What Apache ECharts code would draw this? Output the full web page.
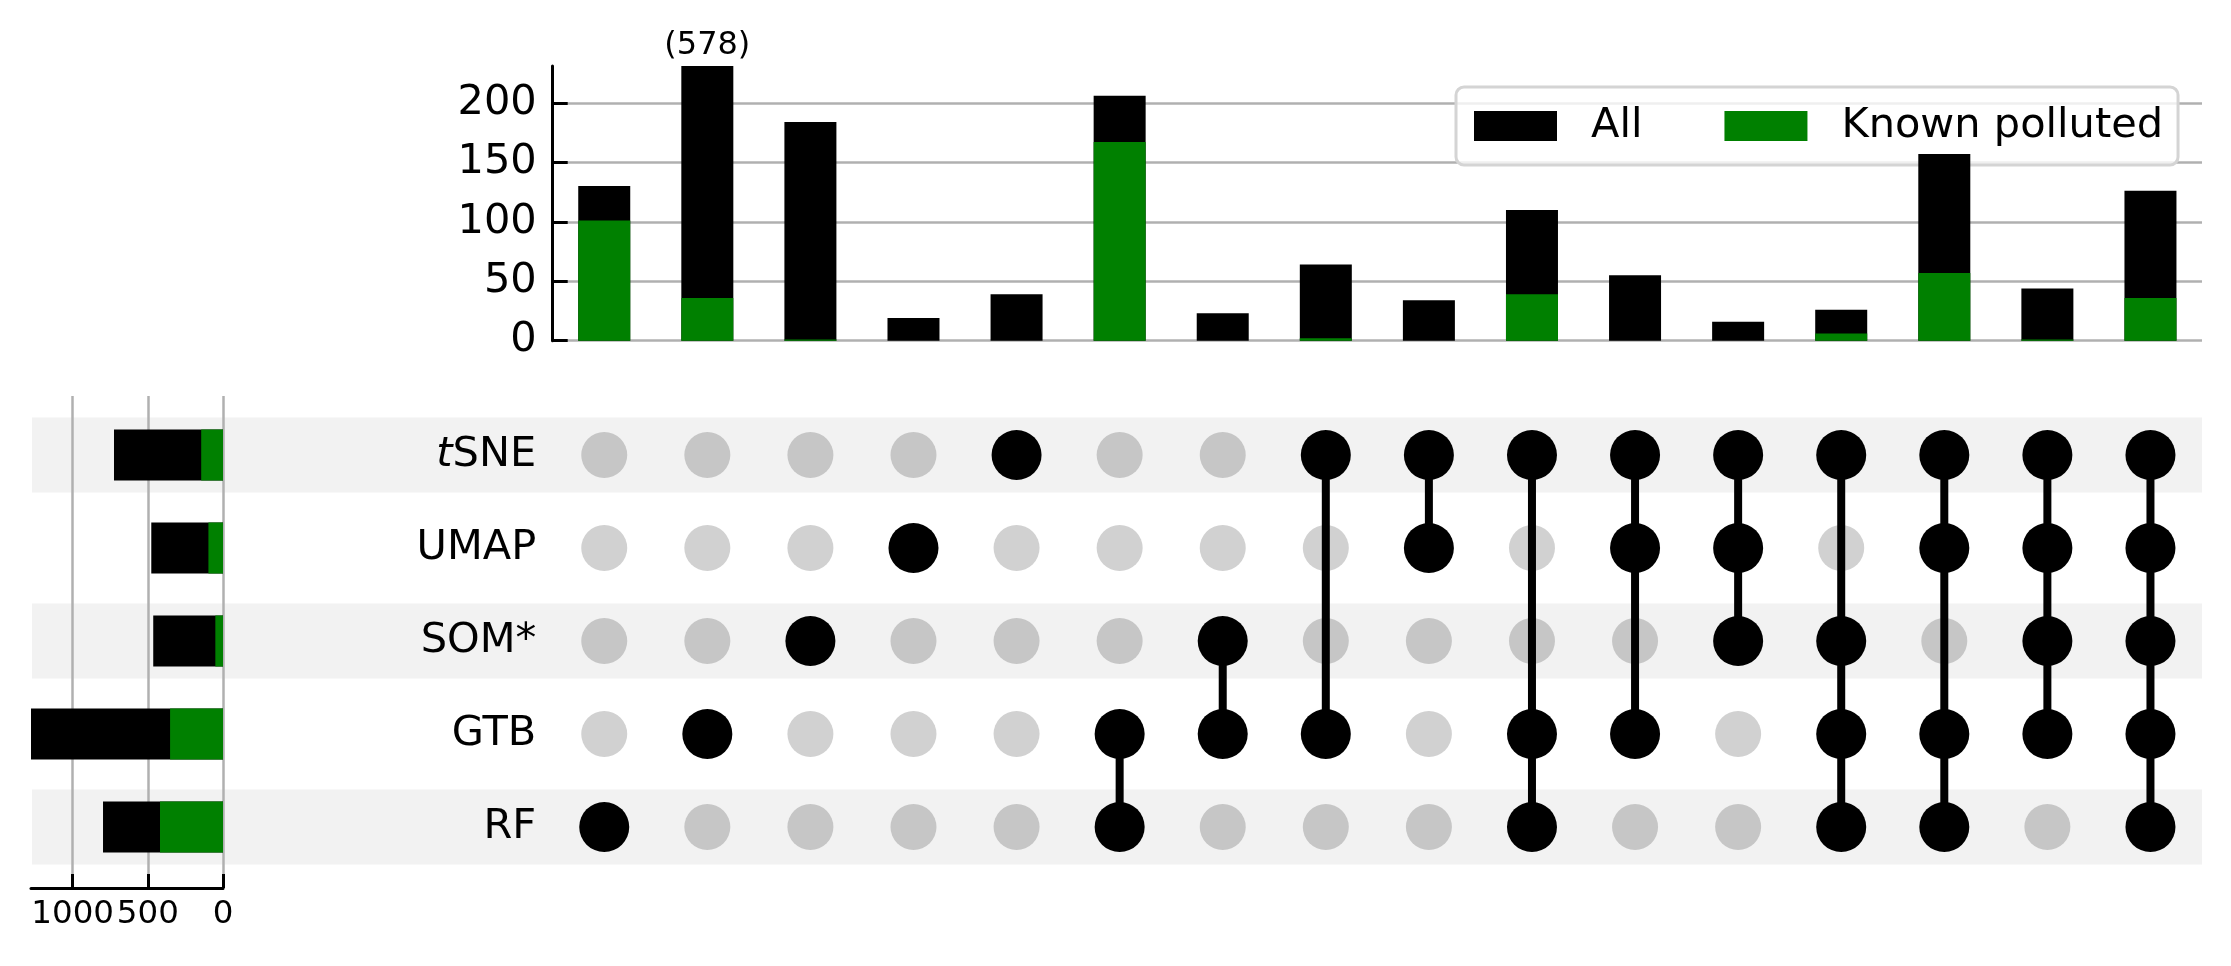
<!DOCTYPE html>
<html><head><meta charset="utf-8">
<script src="https://cdn.jsdelivr.net/npm/echarts@6/dist/echarts.min.js"></script>
<style>html,body{margin:0;padding:0;background:#fff}#c{width:2231px;height:966px}</style>
</head><body><div id="c"></div>
<script>
// ---------- data ----------
const sets = ['tSNE', 'UMAP', 'SOM*', 'GTB', 'RF'];
const shadedSets = ['tSNE', 'SOM*', 'RF'];
const intersections = [
  ['RF'], ['GTB'], ['SOM*'], ['UMAP'], ['tSNE'],
  ['GTB', 'RF'], ['SOM*', 'GTB'], ['tSNE', 'GTB'], ['tSNE', 'UMAP'],
  ['tSNE', 'GTB', 'RF'], ['tSNE', 'UMAP', 'GTB'], ['tSNE', 'UMAP', 'SOM*'],
  ['tSNE', 'SOM*', 'GTB', 'RF'], ['tSNE', 'UMAP', 'GTB', 'RF'], ['tSNE', 'UMAP', 'SOM*', 'GTB'],
  ['tSNE', 'UMAP', 'SOM*', 'GTB', 'RF']
];
const allCounts = [130, 578, 184, 19, 39, 206, 23, 64, 34, 110, 55, 16, 26, 157, 44, 126];
const pollutedCounts = [101, 36, 1, 0, 0, 167, 0, 2, 0, 39, 0, 0, 6, 57, 1, 36];
const setTotals = [725, 477, 464, 1390, 798];
const setPolluted = [145, 97, 51, 352, 419];
const countTicks = [0, 50, 100, 150, 200];
const countMax = 231;
const totalTicks = [0, 500, 1000];
const totalMax = 1277;

// ---------- derived ----------
const colNames = intersections.map(s => s.join('&'));
const FONT = 'DejaVu Sans';
const FS = 41.5;
const GRID = '#b0b0b0';
const NONE = 'rgba(0,0,0,0)';

const blackDots = [], greyDots = [], links = [];
intersections.forEach((mem, c) => {
  const rows = [];
  sets.forEach((s, r) => {
    if (mem.includes(s)) { blackDots.push([c, r]); rows.push(r); }
    else greyDots.push({ value: [c, r], itemStyle: { color: shadedSets.includes(s) ? '#c6c6c6' : '#d1d1d1', opacity: 1 } });
  });
  if (rows.length > 1) links.push([c, Math.min(...rows), Math.max(...rows)]);
});
const overflow = [];
allCounts.forEach((v, i) => { if (v > countMax) overflow.push({ value: [i, countMax], raw: v }); });

const gL = 552.7, gW = 1649.3;
const chart = echarts.init(document.getElementById('c'), null, { renderer: 'canvas' });
chart.setOption({
  animation: false,
  backgroundColor: '#fff',
  textStyle: { fontFamily: FONT, color: '#000' },
  legend: {
    data: ['All', 'Known polluted'], left: 1456, top: 87, z: 1,
    icon: 'rect', itemWidth: 83, itemHeight: 30, itemGap: 82,
    padding: [18, 15, 18, 18],
    borderColor: '#d4d4d4', borderWidth: 3, borderRadius: 8,
    backgroundColor: 'rgba(255,255,255,0.8)',
    textStyle: { fontSize: FS, fontFamily: FONT, color: '#000', padding: [0, 0, 0, 29], lineHeight: 40 }
  },
  grid: [
    { left: gL, top: 66, width: gW, height: 274.7 },          // 0 intersection bars
    { left: gL, top: 408.5, width: gW, height: 465 },         // 1 matrix
    { left: 32, top: 408.5, width: 2170, height: 465 },       // 2 row shading
    { left: 31, top: 408.5, width: 192, height: 465 },        // 3 totals bars
    { left: 31, top: 396, width: 192, height: 492 }           // 4 totals axis
  ],
  xAxis: [
    { gridIndex: 0, type: 'category', data: colNames, show: false },
    { gridIndex: 1, type: 'category', data: colNames, show: false },
    { gridIndex: 2, type: 'value', min: 0, max: 1, show: false },
    { gridIndex: 3, type: 'value', min: 0, max: totalMax, inverse: true, show: false },
    { gridIndex: 4, type: 'value', min: 0, max: totalMax, interval: 500, inverse: true, position: 'bottom', z: 1,
      axisLine: { show: true, lineStyle: { color: '#000', width: 3 } },
      axisTick: { show: true, inside: true, length: 14, lineStyle: { color: '#000', width: 3 }, customValues: totalTicks },
      axisLabel: { show: true, fontSize: 32.5, color: '#000', margin: 10, fontFamily: FONT,
        formatter: v => (totalTicks.includes(v) ? String(v) : '') },
      splitLine: { show: true, lineStyle: { color: [GRID, GRID, GRID, NONE], width: 2.5 } }
    }
  ],
  yAxis: [
    { gridIndex: 0, type: 'value', min: 0, max: countMax, interval: 50,
      axisLine: { show: true, lineStyle: { color: '#000', width: 3 } },
      axisTick: { show: true, inside: true, length: 15, lineStyle: { color: '#000', width: 3 }, customValues: countTicks },
      axisLabel: { fontSize: FS, color: '#000', margin: 16, fontFamily: FONT,
        formatter: v => (countTicks.includes(v) ? String(v) : '') },
      splitLine: { show: true, lineStyle: { color: [GRID, GRID, GRID, GRID, GRID, NONE], width: 2.5 } }
    },
    { gridIndex: 1, type: 'category', data: sets, inverse: true,
      axisLine: { show: false }, axisTick: { show: false }, splitLine: { show: false },
      axisLabel: { fontSize: FS, color: '#000', margin: 16.5, fontFamily: FONT,
        formatter: v => (v.charAt(0) === 't' ? '{it|t}{n|' + v.slice(1) + '}' : '{n|' + v + '}'),
        rich: { it: { fontSize: FS, fontStyle: 'italic', fontFamily: FONT, color: '#000' },
                n: { fontSize: FS, fontFamily: FONT, color: '#000' } } }
    },
    { gridIndex: 2, type: 'category', data: sets, inverse: true, show: false },
    { gridIndex: 3, type: 'category', data: sets, inverse: true, show: false },
    { gridIndex: 4, type: 'value', min: 0, max: 1, show: false }
  ],
  series: [
    // row shading
    { type: 'bar', xAxisIndex: 2, yAxisIndex: 2, z: 0, silent: true, barWidth: 75,
      itemStyle: { color: '#f2f2f2' }, data: sets.map(s => (shadedSets.includes(s) ? 1 : 0)) },
    // intersection bars
    { name: 'All', type: 'bar', xAxisIndex: 0, yAxisIndex: 0, z: 2, barWidth: 52, barGap: '-100%',
      itemStyle: { color: '#000000' }, data: allCounts, clip: true },
    { name: 'Known polluted', type: 'bar', xAxisIndex: 0, yAxisIndex: 0, z: 2, barWidth: 52, barGap: '-100%',
      itemStyle: { color: '#008000' }, data: pollutedCounts, clip: true },
    // overflow label
    { type: 'scatter', xAxisIndex: 0, yAxisIndex: 0, z: 3, symbolSize: 0, silent: true,
      itemStyle: { opacity: 1 },
      data: overflow.map(o => o.value),
      label: { show: true, position: 'top', distance: 4, fontSize: 32, color: '#000', opacity: 1, fontFamily: FONT,
        formatter: p => '(' + overflow[p.dataIndex].raw + ')' } },
    // matrix
    { type: 'scatter', xAxisIndex: 1, yAxisIndex: 1, z: 3, symbolSize: 46, silent: true,
      itemStyle: { opacity: 1 }, data: greyDots },
    { type: 'custom', xAxisIndex: 1, yAxisIndex: 1, z: 4, silent: true, data: links,
      encode: { x: 0, y: [1, 2] },
      renderItem: (params, api) => {
        const p1 = api.coord([api.value(0), api.value(1)]);
        const p2 = api.coord([api.value(0), api.value(2)]);
        return { type: 'line', shape: { x1: p1[0], y1: p1[1], x2: p2[0], y2: p2[1] },
          style: { stroke: '#000', lineWidth: 8 } };
      } },
    { type: 'scatter', xAxisIndex: 1, yAxisIndex: 1, z: 5, symbolSize: 50, silent: true,
      itemStyle: { color: '#000', opacity: 1 }, data: blackDots },
    // set totals
    { type: 'bar', xAxisIndex: 3, yAxisIndex: 3, z: 2, barWidth: 51, barGap: '-100%', clip: true,
      itemStyle: { color: '#000000' }, data: setTotals },
    { type: 'bar', xAxisIndex: 3, yAxisIndex: 3, z: 2, barWidth: 51, barGap: '-100%', clip: true,
      itemStyle: { color: '#008000' }, data: setPolluted },
    { type: 'scatter', xAxisIndex: 4, yAxisIndex: 4, data: [], silent: true }
  ]
});
</script>
</body></html>
